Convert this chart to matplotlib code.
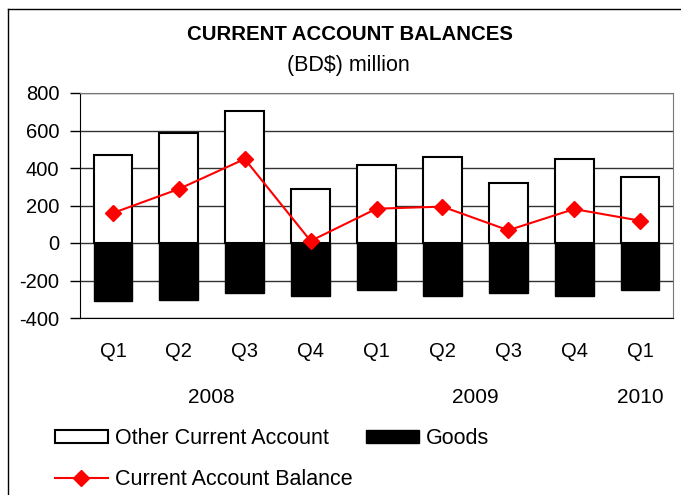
import matplotlib
matplotlib.use("Agg")
import matplotlib.pyplot as plt
from matplotlib.patches import Patch
from matplotlib.lines import Line2D

plt.rcParams['font.family'] = ['Liberation Sans', 'DejaVu Sans']
plt.rcParams['axes.unicode_minus'] = False

# Data (BD$ million)
quarters = ["Q1", "Q2", "Q3", "Q4", "Q1", "Q2", "Q3", "Q4", "Q1"]
other_current = [469, 587, 706, 290, 416, 459, 322, 450, 354]
goods = [-311, -302, -268, -281, -249, -281, -268, -281, -249]
balance = [160, 288, 448, 11, 183, 194, 68, 181, 119]
years = ["2008", "2009", "2010"]
year_pos = [1.5, 5.5, 8]

W, H = 681, 495
fig = plt.figure(figsize=(W / 100, H / 100), dpi=100)

# Outer frame (only top and left edges visible)
fig.add_artist(Line2D([8 / W, 8 / W], [0, 1 - 9 / H], color="black", lw=1, transform=fig.transFigure))
fig.add_artist(Line2D([8 / W, 1], [1 - 9 / H, 1 - 9 / H], color="black", lw=1, transform=fig.transFigure))

ax = fig.add_axes([80 / W, (H - 318) / H, 593 / W, 225 / H])

x = list(range(len(quarters)))
ax.bar(x, other_current, width=0.59, color="white", edgecolor="black", linewidth=1.5, zorder=3)
ax.bar(x, goods, width=0.59, color="black", edgecolor="black", linewidth=1.0, zorder=3)
ax.plot(x, balance, color="red", lw=1.5, marker="D", markersize=8, zorder=4)

ax.set_ylim(-400, 800)
ax.set_xlim(-0.5, len(quarters) - 0.5)
ax.set_yticks(range(-400, 801, 200))
ax.yaxis.grid(True, color="#333333", lw=1, zorder=0)
ax.set_axisbelow(True)
ax.tick_params(axis="y", direction="out", length=7, width=1, pad=8, labelsize=14.5)
ax.set_xticks(x)
ax.set_xticklabels(quarters)
ax.tick_params(axis="x", length=0, pad=17, labelsize=14.5)

for s in ["top", "right"]:
    ax.spines[s].set_color("#777777")
for s in ["left", "bottom"]:
    ax.spines[s].set_color("black")

for yr, xp in zip(years, year_pos):
    ax.text(xp, -0.355, yr, transform=ax.get_xaxis_transform(), ha="center", va="center", fontsize=15)

fig.text(350 / W, 1 - 34 / H, "CURRENT ACCOUNT BALANCES", ha="center", va="center",
         fontsize=14.7, fontweight="bold")
fig.text(348 / W, 1 - 66 / H, "(BD$) million", ha="center", va="center", fontsize=15.5)

handles = [
    Patch(facecolor="white", edgecolor="black", linewidth=1.5),
    Line2D([], [], color="red", lw=1.5, marker="D", markersize=8),
    Patch(facecolor="black", edgecolor="black"),
]
labels = ["Other Current Account", "Current Account Balance", "Goods"]
fig.legend(handles, labels, ncol=2, loc="upper left", bbox_to_anchor=(55 / W, 1 - 428 / H),
           frameon=False, borderpad=0, fontsize=15.5, handlelength=2.45, handleheight=0.55,
           handletextpad=0.35, columnspacing=0.6, labelspacing=0.95, borderaxespad=0)

fig.savefig("out.png", dpi=100)
